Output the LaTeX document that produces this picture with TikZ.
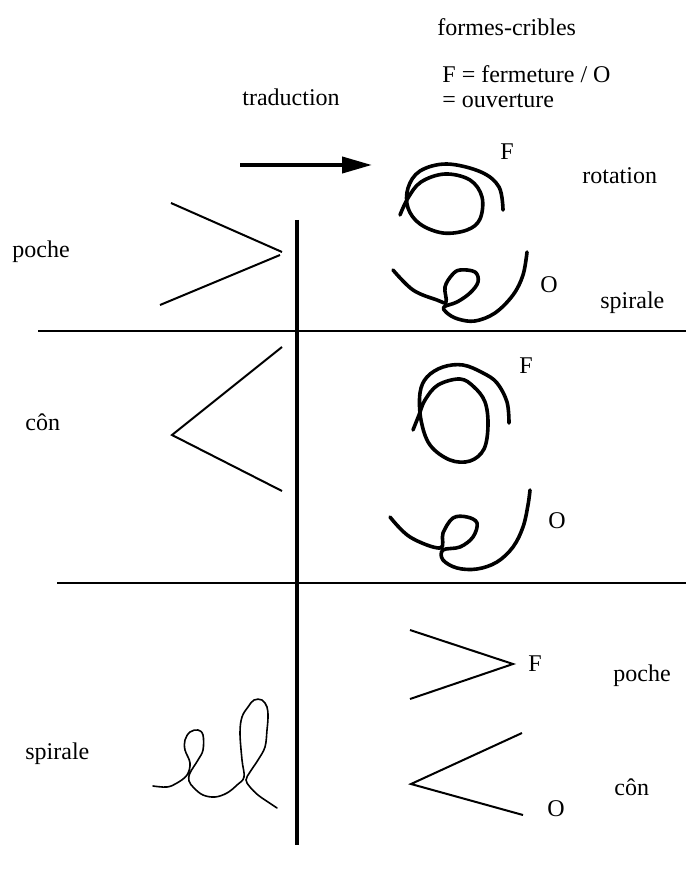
\documentclass[tikz,border=0pt]{standalone}
\usepackage{fontspec}
\setmainfont{Liberation Serif}
\usetikzlibrary{positioning,calc,arrows.meta}
\tikzset{
    every node/.style={font=\fontsize{12}{13}\selectfont, inner sep=0pt},
    lbl/.style={anchor=base west},
    sepline/.style={draw=black, line width=0.8pt},
    axisline/.style={draw=black, line width=2pt},
    chevron/.style={draw=black, line width=1pt},
    scribble/.style={draw=black, line width=1.8pt, line join=round, line cap=round},
    thinscribble/.style={draw=black, line width=0.8pt, line join=round, line cap=round},
    arrow/.style={-{Triangle[length=15pt,width=8pt]}, line width=2pt},
}
\begin{document}
\begin{tikzpicture}[x=0.5pt, y=-0.5pt]
\useasboundingbox (0,0) rectangle (686,877);
% header
\node[lbl] (title) at (437,36) {formes-cribles};
\node[lbl] (legendF) at (442,83) {F = fermeture / O};
\node[lbl] (legendO) at (442,108) {= ouverture};
\node[lbl] (trad) at (242,106) {traduction};
\coordinate (arrS) at (240,165);
\coordinate (arrE) at (372,165);
\draw[arrow] (arrS) -- (arrE);
% axis and row separators
\coordinate (axT) at (297,220);
\coordinate (axB) at (297,845);
\draw[axisline] (axT) -- (axB);
\coordinate (s1L) at (38,331);
\coordinate (s1R) at (686,331);
\coordinate (s2L) at (57,583);
\coordinate (s2R) at (686,583);
\draw[sepline] (s1L) -- (s1R);
\draw[sepline] (s2L) -- (s2R);
% row 1 : poche
\node[lbl] (poche1) at (12,257) {poche};
\draw[chevron] (171,203) -- (282,252);
\draw[chevron] (280,255) -- (160,305);
\draw[scribble] plot[smooth, tension=0.6] coordinates {(503,210) (499,187) (481,172) (447,164) (420,171) (408,188) (408,208) (420,224) (443,233) (467,230) (480,219) (482,197) (470,180) (445,174) (421,182) (408,198) (400,215)};
\node[lbl] (f1) at (500,160) {F};
\node[lbl] (rot) at (582,184) {rotation};
\draw[scribble] plot[smooth, tension=0.6] coordinates {(393,270) (413,290) (437,300) (446,302) (445,287) (452,275) (460,270) (475,272) (478,282) (470,293) (457,302) (444,307) (447,313) (458,319) (475,321) (495,313) (513,295) (523,275) (527,252)};
\node[lbl] (o1) at (540,292) {O};
\node[lbl] (spi1) at (600,308) {spirale};
% row 2 : cone
\node[lbl] (cone1) at (25,430) {côn};
\draw[chevron] (282,347) -- (172,435) -- (282,491);
\draw[scribble] plot[smooth, tension=0.6] coordinates {(509,423) (507,402) (497,383) (483,373) (463,365) (443,367) (427,377) (420,393) (421,420) (430,445) (450,460) (470,461) (484,449) (488,425) (485,402) (474,387) (460,379) (438,385) (425,400) (419,415) (413,430)};
\node[lbl] (f2) at (519,373) {F};
\draw[scribble] plot[smooth, tension=0.6] coordinates {(390,517) (410,537) (440,548) (443,533) (453,518) (467,517) (477,523) (473,537) (460,547) (443,550) (443,560) (457,568) (477,569) (497,562) (513,547) (523,527) (528,505) (530,490)};
\node[lbl] (o2) at (548,528) {O};
% row 3 : spirale
\node[lbl] (spi2) at (25,759) {spirale};
\draw[thinscribble] plot[smooth, tension=0.6] coordinates {(153,786) (167,787) (177,783) (187,775) (190,763) (185,750) (185,740) (190,732) (198,730) (203,735) (203,750) (198,760) (190,773) (189,781) (194,788) (203,795) (215,797) (227,793) (237,785) (244,777) (242,760) (240,733) (242,717) (248,707) (254,700) (262,700) (267,707) (268,717) (267,730) (265,747) (258,760) (250,772) (246,780) (250,787) (258,795) (268,802) (277,808)};
\draw[chevron] (410,630) -- (513,664) -- (410,699);
\node[lbl] (f3) at (528,671) {F};
\node[lbl] (poche2) at (613,681) {poche};
\draw[chevron] (522,733) -- (411,784) -- (523,815);
\node[lbl] (cone2) at (614,795) {côn};
\node[lbl] (o3) at (547,816) {O};
\end{tikzpicture}
\end{document}
